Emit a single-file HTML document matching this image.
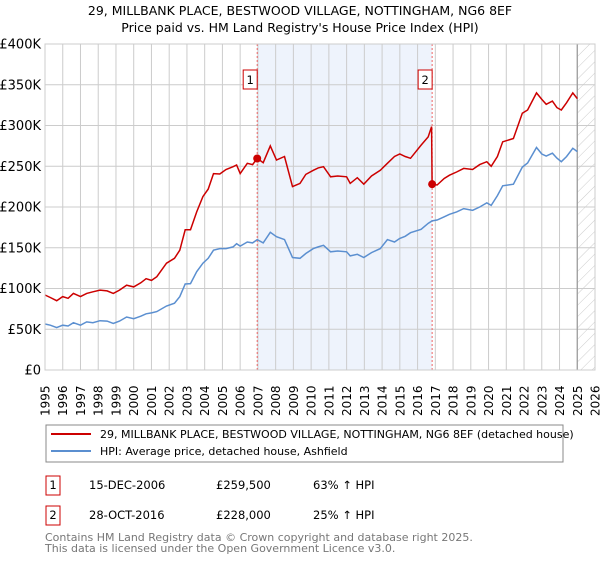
<!DOCTYPE html>
<html><head><meta charset="utf-8"><style>
body{margin:0;background:#fff;font-family:"DejaVu Sans","Liberation Sans",sans-serif;}
svg text{font-family:"DejaVu Sans","Liberation Sans",sans-serif;}
</style></head><body>
<svg id="c" width="600" height="560" xmlns="http://www.w3.org/2000/svg">
<defs><pattern id="hatch" width="8" height="8" patternUnits="userSpaceOnUse" patternTransform="rotate(45)"><line x1="0" y1="0" x2="0" y2="8" stroke="#ccc" stroke-width="1"/></pattern></defs>
<text x="300" y="15" text-anchor="middle" font-size="12.5">29, MILLBANK PLACE, BESTWOOD VILLAGE, NOTTINGHAM, NG6 8EF</text>
<text x="300" y="32" text-anchor="middle" font-size="12.5">Price paid vs. HM Land Registry's House Price Index (HPI)</text>
<g id="plot"></g>
<rect x="46" y="425" width="517" height="37" fill="#fff" stroke="#888"/>
<line x1="51" y1="434" x2="91" y2="434" stroke="#cc0000" stroke-width="2"/>
<text x="100" y="438" font-size="11">29, MILLBANK PLACE, BESTWOOD VILLAGE, NOTTINGHAM, NG6 8EF (detached house)</text>
<line x1="51" y1="451" x2="91" y2="451" stroke="#5b8fd0" stroke-width="2"/>
<text x="100" y="455" font-size="11">HPI: Average price, detached house, Ashfield</text>
<g font-size="11.5">
<rect x="46" y="476" width="14" height="19" fill="#fff" stroke="#cc0000"/>
<text x="53" y="489" text-anchor="middle">1</text>
<text x="89" y="489">15-DEC-2006</text>
<text x="216" y="489">£259,500</text>
<text x="313" y="489">63% ↑ HPI</text>
<rect x="46" y="506" width="14" height="19" fill="#fff" stroke="#cc0000"/>
<text x="53" y="519" text-anchor="middle">2</text>
<text x="89" y="519">28-OCT-2016</text>
<text x="216" y="519">£228,000</text>
<text x="313" y="519">25% ↑ HPI</text>
</g>
<text x="45" y="541" font-size="11" fill="#777">Contains HM Land Registry data © Crown copyright and database right 2025.</text>
<text x="45" y="552" font-size="11" fill="#777">This data is licensed under the Open Government Licence v3.0.</text>
</svg>
<script>
const hpiYears=[1995,1995.3,1995.66,1996,1996.3,1996.6,1997,1997.35,1997.7,1998.1,1998.5,1998.85,1999.2,1999.6,2000,2000.4,2000.7,2001,2001.3,2001.85,2002.3,2002.6,2002.9,2003.2,2003.55,2003.9,2004.2,2004.5,2004.85,2005.2,2005.6,2005.8,2006,2006.4,2006.7,2006.96,2007.3,2007.7,2008.05,2008.5,2008.95,2009.37,2009.7,2010.12,2010.4,2010.7,2011.1,2011.5,2012,2012.2,2012.6,2012.97,2013.4,2013.9,2014.3,2014.7,2015,2015.3,2015.6,2016.2,2016.6,2016.82,2017.1,2017.5,2017.8,2018.2,2018.6,2019.1,2019.5,2019.9,2020.15,2020.5,2020.8,2021.4,2021.9,2022.2,2022.7,2023.0,2023.25,2023.6,2023.85,2024.1,2024.4,2024.75,2025];
const hpiValues=[56.4,55,52,55,54,58,55,59,58,60.5,60,57,60,65,63,66,69,70,71.6,78.5,82,90,105.5,106,120.6,131,137,147,149,149,151,155,152,157,156,160,156,169,163.6,160,138,137,143,149,151,153,145,146,145,140,142,138,144,149,160,157,161.5,164,168.5,172.6,180,183,184,188,191,194,198,196,200,205,202,214,226,228,249,254,273,265,262.6,266,260,255.6,262,272,268];
const ppYears=[1995,1995.3,1995.66,1996,1996.3,1996.6,1997,1997.35,1997.7,1998.1,1998.5,1998.85,1999.2,1999.6,2000,2000.4,2000.7,2001,2001.3,2001.85,2002.3,2002.6,2002.9,2003.2,2003.55,2003.9,2004.2,2004.5,2004.85,2005.2,2005.6,2005.8,2006,2006.4,2006.7,2006.96,2007.3,2007.7,2008.05,2008.5,2008.95,2009.37,2009.7,2010.12,2010.4,2010.7,2011.1,2011.5,2012,2012.2,2012.6,2012.97,2013.4,2013.9,2014.3,2014.7,2015,2015.3,2015.6,2016.2,2016.6,2016.79,2016.82,2017.1,2017.5,2017.8,2018.2,2018.6,2019.1,2019.5,2019.9,2020.15,2020.5,2020.8,2021.4,2021.9,2022.2,2022.7,2023.0,2023.25,2023.6,2023.85,2024.1,2024.4,2024.75,2025];
const ppValues=[92,89,85,90,88,94,90,94,96,98,97,94,98,104,102,107,112,110,114.5,131,137,147,172,172,194,212.7,222,241,240.5,246,249.5,251.5,241,253.6,252,259.7,254.4,275,257.7,262,225,229,240,245,248,249.5,237,238,237,229,236,228,238,245,253.6,262,265,262,259.7,276,286,298.6,228,227,235,239,243,247.4,246,252,255.6,250,262,280,284,315,319,340,332,326,330,322,319,328,340,333];
const sales=[{n:"1",year:2006.96,price:259.5},{n:"2",year:2016.82,price:228}];
const yTicks=[0,50,100,150,200,250,300,350,400];
const xTicks=[1995,1996,1997,1998,1999,2000,2001,2002,2003,2004,2005,2006,2007,2008,2009,2010,2011,2012,2013,2014,2015,2016,2017,2018,2019,2020,2021,2022,2023,2024,2025,2026];
const X0=45,X1=595,Y0=370,Y1=44,YR0=1995,YR1=2026,VMAX=400;
const sx=y=>X0+(y-YR0)/(YR1-YR0)*(X1-X0);
const sy=v=>Y0-v/VMAX*(Y0-Y1);
const NS="http://www.w3.org/2000/svg";
const g=document.getElementById('plot');
function mk(t,a){const e=document.createElementNS(NS,t);for(const k in a)e.setAttribute(k,a[k]);g.appendChild(e);return e;}
let e;
e=mk('rect',{x:sx(sales[0].year),y:Y1,width:sx(sales[1].year)-sx(sales[0].year),height:Y0-Y1,fill:'#eef3fc'});


e=mk('rect',{x:sx(2025),y:Y1,width:X1-sx(2025),height:Y0-Y1,fill:'url(#hatch)'});


xTicks.forEach(t=>{
 e=mk('line',{x1:sx(t),x2:sx(t),y1:Y1,y2:Y0,stroke:'#cccccc','stroke-width':1});
 
 
 e=mk('text',{x:0,y:0,'font-size':12,transform:`translate(${sx(t)+4.5},${Y0+46}) rotate(-90)`});
 e.textContent=t;
 
 
});
yTicks.forEach(t=>{
 e=mk('line',{x1:X0,x2:X1,y1:sy(t),y2:sy(t),stroke:'#cccccc','stroke-width':1});
 
 
 e=mk('text',{x:X0-4,y:sy(t)+4.5,'font-size':13,'text-anchor':'end'});
 e.textContent=t===0?'£0':'£'+t+'K';
 
 
});
e=mk('line',{x1:sx(2025),x2:sx(2025),y1:Y1,y2:Y0,stroke:'#999','stroke-width':1.2});


sales.forEach(s=>{
 e=mk('line',{x1:sx(s.year),x2:sx(s.year),y1:Y1,y2:Y0,stroke:'#ee6666','stroke-width':1,'stroke-dasharray':'2,2'});
 
 
 e=mk('rect',{x:sx(s.year)-14,y:70,width:14,height:19,fill:'#fff',stroke:'#cc0000'});
 
 
 e=mk('text',{x:sx(s.year)-7,y:84,'font-size':11.5,'text-anchor':'middle'});
 e.textContent=s.n;
 
 
});
const pts=(xs,vs)=>xs.map((y,i)=>sx(y).toFixed(1)+','+sy(vs[i]).toFixed(1)).join(' ');
e=mk('polyline',{points:pts(hpiYears,hpiValues),fill:'none',stroke:'#5b8fd0','stroke-width':1.5});


e=mk('polyline',{points:pts(ppYears,ppValues),fill:'none',stroke:'#cc0000','stroke-width':1.5});


sales.forEach(s=>{
 e=mk('circle',{cx:sx(s.year),cy:sy(s.price),r:4,fill:'#cc0000'});
 
 
});
e=mk('rect',{x:X0,y:Y1,width:X1-X0,height:Y0-Y1,fill:'none',stroke:'#cccccc'});


</script>
</body></html>
